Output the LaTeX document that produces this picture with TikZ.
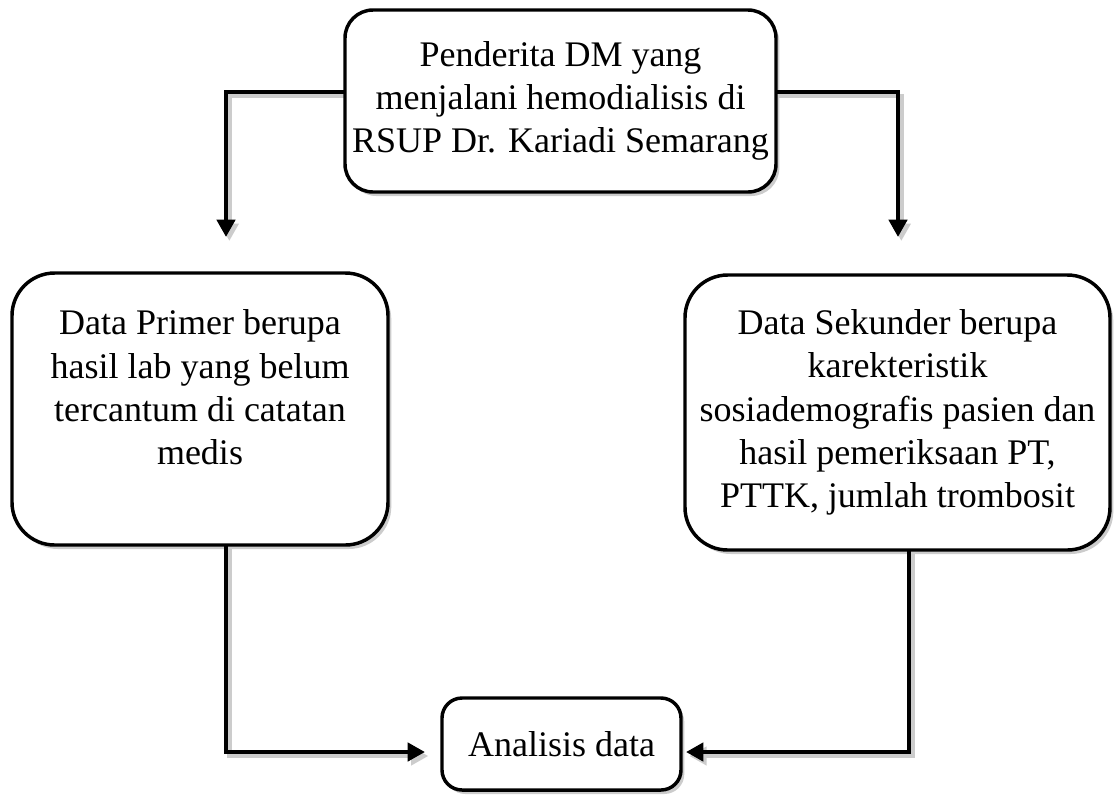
\documentclass[tikz,border=0pt]{standalone}
\usepackage{fontspec}
\setmainfont{Liberation Serif}
\usetikzlibrary{arrows.meta,shadows,backgrounds}
\begin{document}
\begin{tikzpicture}[x=0.75pt,y=-0.75pt,
  box/.style={draw=black, line width=2.6pt, fill=white, align=center,
    inner sep=0pt, outer sep=0pt, font=\fontsize{27}{32.5}\selectfont,
    drop shadow={shadow xshift=2.5pt, shadow yshift=-3pt, fill=black!20, opacity=1}},
  conn/.style={line width=3.6pt, -{Triangle[length=13pt,width=13.5pt]}},
  connshadow/.style={conn, draw=black!20, transform canvas={shift={(2.5pt,-3pt)}}},
]
\useasboundingbox (0,0) rectangle (1117,794);

\node[box, rounded corners=21pt, minimum width=323.25pt, minimum height=136.5pt] (top) at (560.5,101)
  {Penderita DM yang\\menjalani hemodialisis di\\RSUP Dr. Kariadi Semarang};
\node[box, rounded corners=32pt, minimum width=282pt, minimum height=204pt] (prim) at (200,409)
  {Data Primer berupa\\hasil lab yang belum\\tercantum di catatan\\medis\\\mbox{}};
\node[box, rounded corners=32pt, minimum width=318.75pt, minimum height=206.25pt] (sec) at (897.5,412.5)
  {Data Sekunder berupa\\karekteristik\\sosiademografis pasien dan\\hasil pemeriksaan PT,\\PTTK, jumlah trombosit};
\node[box, rounded corners=15pt, minimum width=179.25pt, minimum height=69pt] (an) at (561.5,744)
  {Analisis data};

\coordinate (ltip) at (226,237);
\coordinate (rtip) at (898,237);
\coordinate (rdown) at (909,752);

\begin{scope}[on background layer]
  \draw[connshadow] ([yshift=6.75pt]top.west) -| (ltip);
  \draw[connshadow] ([yshift=6.75pt]top.east) -| (rtip);
  \draw[connshadow, shorten >=12.75pt] (prim.south -| ltip) |- ([yshift=-6pt]an.west);
  \draw[connshadow, shorten >=3.75pt] (sec.south -| rdown) |- ([yshift=-6pt]an.east);
\end{scope}

\draw[conn] ([yshift=6.75pt]top.west) -| (ltip);
\draw[conn] ([yshift=6.75pt]top.east) -| (rtip);
\draw[conn, shorten >=12.75pt] (prim.south -| ltip) |- ([yshift=-6pt]an.west);
\draw[conn, shorten >=3.75pt] (sec.south -| rdown) |- ([yshift=-6pt]an.east);
\end{tikzpicture}
\end{document}
